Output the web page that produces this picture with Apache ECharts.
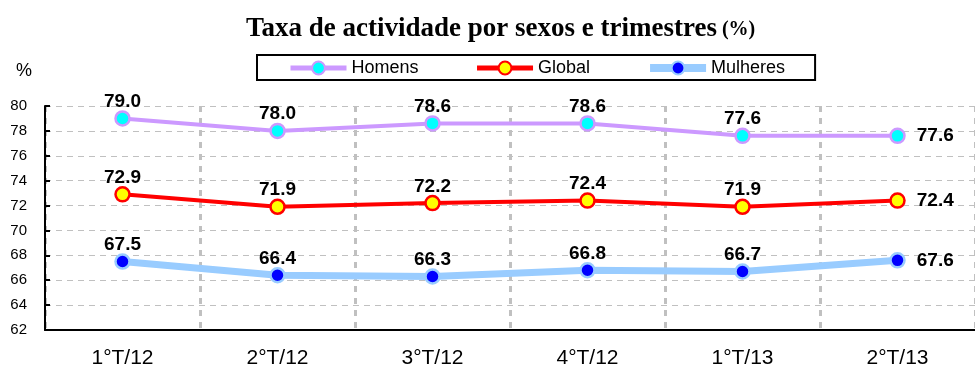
<!DOCTYPE html>
<html>
<head>
<meta charset="utf-8">
<script src="https://cdn.jsdelivr.net/npm/echarts@6/dist/echarts.min.js"></script>
<style>
  html, body { margin: 0; padding: 0; background: #fff; }
  #chart { width: 975px; height: 369px; }
</style>
</head>
<body>
<div id="chart"></div>
<script>
// Quarterly activity rate by sex (%)
const categories = ['1°T/12', '2°T/12', '3°T/12', '4°T/12', '1°T/13', '2°T/13'];
const homens = [79.0, 78.0, 78.6, 78.6, 77.6, 77.6];
const global = [72.9, 71.9, 72.2, 72.4, 71.9, 72.4];
const mulheres = [67.5, 66.4, 66.3, 66.8, 66.7, 67.6];

const chart = echarts.init(document.getElementById('chart'));

const sans = 'Arial, Liberation Sans, sans-serif';
const serif = 'Liberation Serif, Times New Roman, serif';
const labelFont = { fontFamily: sans, fontWeight: 'bold', fontSize: 19, color: '#000' };

// Value labels sit above each point; the last one goes to the right
function valueLabels(values) {
  return values.map((v, i) => {
    const last = i === values.length - 1;
    return {
      value: v,
      label: Object.assign({
        show: true,
        position: last ? 'right' : 'top',
        distance: last ? 11 : -1,
        formatter: (p) => p.value.toFixed(1)
      }, labelFont)
    };
  });
}

function lineSeries(name, values, lineColor, lineWidth, fill, size) {
  return {
    name: name,
    type: 'line',
    data: valueLabels(values),
    symbol: 'circle',
    symbolSize: size,
    lineStyle: { color: lineColor, width: lineWidth },
    itemStyle: { color: fill, borderColor: lineColor, borderWidth: 2.5 },
    emphasis: { disabled: true },
    z: 3
  };
}

chart.setOption({
  animation: false,
  backgroundColor: '#fff',
  title: {
    text: '{b|Taxa de actividade por sexos e trimestres} {s|(%)}',
    left: 241,
    top: 11,
    textStyle: {
      rich: {
        b: { fontFamily: serif, fontWeight: 'bold', fontSize: 27, color: '#000' },
        s: { fontFamily: serif, fontSize: 20, color: '#000' }
      }
    }
  },
  graphic: [{
    type: 'text',
    left: 16,
    top: 62,
    style: { text: '%', fontFamily: sans, fontSize: 18, fill: '#000' }
  }],
  legend: {
    left: 257,
    top: 55,
    padding: [4, 30, 3, 31],
    itemGap: 56,
    itemWidth: 56,
    itemHeight: 16,
    borderColor: '#000',
    borderWidth: 2,
    borderRadius: 0,
    textStyle: { fontFamily: sans, fontSize: 18, color: '#000' },
    data: [
      { name: 'Homens', lineStyle: { width: 5 } },
      { name: 'Global', lineStyle: { width: 5 } },
      { name: 'Mulheres', lineStyle: { width: 8 } }
    ]
  },
  grid: { left: 45, right: -10, top: 106, bottom: 38, containLabel: false },
  xAxis: {
    type: 'category',
    data: categories,
    boundaryGap: true,
    axisLine: { lineStyle: { color: '#000', width: 2 } },
    axisTick: { show: false },
    axisLabel: { fontFamily: sans, fontSize: 21, color: '#000', margin: 18 },
    splitLine: { show: true, lineStyle: { color: '#c0c0c0', width: 3, type: [6, 6] } }
  },
  yAxis: {
    type: 'value',
    min: 62,
    max: 80,
    interval: 2,
    axisLine: { show: true, lineStyle: { color: '#000', width: 2 } },
    axisTick: { show: true, inside: true, length: 5, lineStyle: { color: '#000', width: 2 } },
    axisLabel: { fontFamily: sans, fontSize: 15, color: '#000', margin: 18 },
    splitLine: { show: true, lineStyle: { color: '#c0c0c0', width: 1, type: [6, 5] } }
  },
  series: [
    lineSeries('Homens', homens, '#cc99ff', 4, '#00ffff', 14),
    lineSeries('Global', global, '#ff0000', 4, '#ffff00', 14),
    lineSeries('Mulheres', mulheres, '#99ccff', 7, '#0000ff', 14)
  ]
});
</script>
</body>
</html>
